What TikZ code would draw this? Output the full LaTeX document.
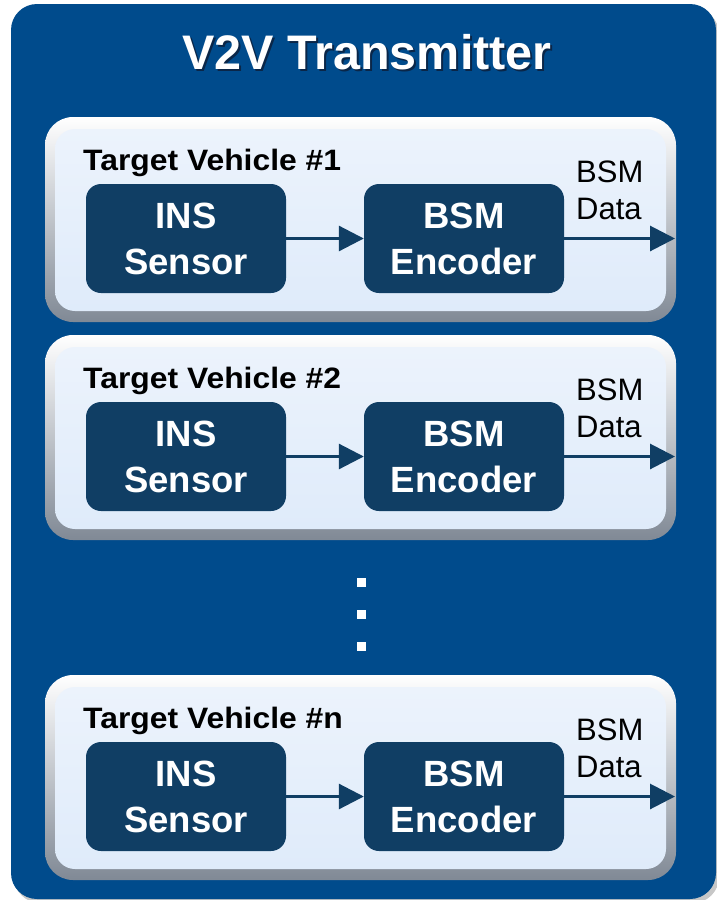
\documentclass[tikz,border=0pt]{standalone}
\usepackage{fontspec}
\setmainfont{Liberation Sans}
\usetikzlibrary{arrows.meta}
\definecolor{outerblue}{RGB}{0,75,140}
\definecolor{panelfill}{RGB}{223,235,250}
\definecolor{paneltop}{RGB}{236,243,252}
\definecolor{boxblue}{RGB}{16,62,100}
\definecolor{bevelgray}{RGB}{128,137,149}
\definecolor{bevelmid}{RGB}{232,237,243}
\definecolor{titleshade}{RGB}{10,38,72}

% white title text with a soft dark drop shadow behind it
\newcommand{\shadowtext}[1]{%
  \rlap{\kern2pt\raisebox{-2pt}{\textcolor{titleshade}{#1}}}\textcolor{white}{#1}}

\begin{document}
\begin{tikzpicture}[x=1pt,y=-1pt,
  block/.style={fill=boxblue, rounded corners=15pt, minimum width=200pt,
    minimum height=109pt, inner sep=0pt, text=white, align=center,
    font=\bfseries\fontsize{36.5}{46}\selectfont},
  flow/.style={draw=boxblue, line width=3pt, -{Triangle[length=25pt,width=25pt]}},
  vlabel/.style={anchor=base west, inner sep=0pt, font=\bfseries\fontsize{29.5}{32}\selectfont},
  datalabel/.style={anchor=base west, inner sep=0pt, font=\fontsize{31}{37}\selectfont},
  titlefont/.style={font=\bfseries\fontsize{48.5}{52}\selectfont, inner sep=0pt}
]
\useasboundingbox (0,0) rectangle (716,900);
\fill[white] (0,0) rectangle (716,900);

% outer frame
\fill[black!22, rounded corners=26pt] (14,8) rectangle (719,903);
\fill[outerblue, rounded corners=26pt] (11,4) rectangle (716,899);

% title
\node[titlefont] (title) at (367,53) {\shadowtext{V2V Transmitter}};

% one bevelled panel per vehicle
\foreach \y/\k in {117/1, 335/2, 675/n} {
  \shade[rounded corners=28pt, top color=white, middle color=bevelmid, bottom color=bevelgray]
    (45,\y) rectangle (676,\y+205);
  \shade[rounded corners=20pt, top color=paneltop, bottom color=panelfill]
    (55,\y+12) rectangle (666,\y+194);
  \node[vlabel] (lab\k) at (83,\y+53) {\scalebox{1.08}[1]{Target Vehicle \#\k}};
  \node[block] (ins\k) at (186,\y+121.5) {INS\\Sensor};
  \node[block] (enc\k) at (464,\y+121.5) {BSM\\Encoder};
  \coordinate (out\k) at (675,\y+121.5);
  \draw[flow] (ins\k) -- (enc\k);
  \draw[flow] (enc\k) -- (out\k);
  \node[datalabel] (bsm\k) at (576,\y+65) {BSM};
  \node[datalabel] (data\k) at (576,\y+102) {Data};
}

% vertical ellipsis between panels
\foreach \d in {577.5, 609.5, 641.5}
  \fill[white] (356.5,\d) rectangle ++(9,9);
\end{tikzpicture}
\end{document}
